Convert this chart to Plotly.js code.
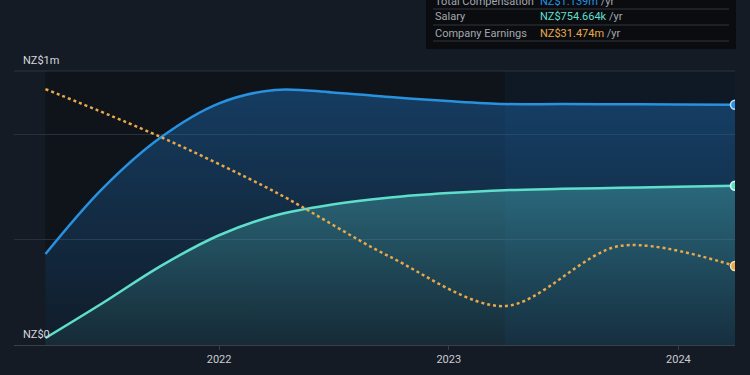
<!DOCTYPE html>
<html>
<head>
<meta charset="utf-8">
<script src="https://cdn.plot.ly/plotly-3.0.1.min.js"></script>
<style>
  html, body { margin: 0; padding: 0; background: #151b24; }
  #chart { width: 750px; height: 375px; }
</style>
</head>
<body>
<div id="chart"></div>
<script>
// ---- data ----
var compDates = ['2021-03-31', '2021-06-30', '2021-09-30', '2021-12-31', '2022-03-31', '2022-06-30', '2022-09-30',
                 '2022-12-31', '2023-03-31', '2023-06-30', '2023-09-30', '2023-12-31', '2024-03-31'];
var totalComp = [0.431, 0.742, 0.983, 1.144, 1.209, 1.197, 1.175, 1.156, 1.142, 1.142, 1.141, 1.140, 1.139];   // NZ$ m
var salary    = [0.033, 0.199, 0.374, 0.519, 0.614, 0.666, 0.699, 0.720, 0.734, 0.740, 0.745, 0.750, 0.754664]; // NZ$ m

var earnDates = ['2021-03-31', '2021-09-30', '2022-03-31', '2022-09-30', '2023-03-31', '2023-09-30', '2024-03-31'];
var earnings  = [102.0, 82.9, 61.0, 35.1, 15.5, 39.5, 31.474];   // NZ$ m

var xTickVals = ['2022-01-01', '2023-01-01', '2024-01-01'];
var xTickText = ['2022', '2023', '2024'];
var yGridVals = [0.5, 1.0];
var yLabels = ['NZ$0', 'NZ$1m'];

var legendNames = ['Total Compensation', 'Salary', 'Company Earnings'];
var legendValues = ['NZ$1.139m', 'NZ$754.664k', 'NZ$31.474m'];

// ---- styling ----
var C_BLUE = '#2892e0';
var C_TEAL = '#5fdfcb';
var C_ORANGE = '#e8a94b';
var BG = '#151b24';

// pixel -> paper helpers (plot area: x 14..735, y 71..345)
function px(x) { return (x - 14) / 721; }
function py(y) { return (345 - y) / 274; }

var lastC = compDates.length - 1;
var lastE = earnDates.length - 1;

var traces = [
  {
    x: compDates, y: totalComp, type: 'scatter', mode: 'lines',
    line: { color: C_BLUE, width: 2.5, shape: 'spline', smoothing: 1 },
    fill: 'tozeroy',
    fillgradient: { type: 'vertical', start: 0, stop: 1.25,
      colorscale: [[0, 'rgba(30,110,180,0.10)'], [1, 'rgba(30,120,200,0.42)']] },
    hoverinfo: 'skip'
  },
  {
    x: compDates, y: salary, type: 'scatter', mode: 'lines',
    line: { color: C_TEAL, width: 2.5, shape: 'spline', smoothing: 1 },
    fill: 'tozeroy',
    fillgradient: { type: 'vertical', start: 0, stop: 0.76,
      colorscale: [[0, 'rgba(70,170,170,0.10)'], [1, 'rgba(80,190,190,0.38)']] },
    hoverinfo: 'skip'
  },
  {
    x: earnDates, y: earnings, type: 'scatter', mode: 'lines', yaxis: 'y2',
    line: { color: C_ORANGE, width: 2.5, dash: 'dot', shape: 'spline', smoothing: 0.9 },
    hoverinfo: 'skip'
  },
  {
    x: [compDates[lastC]], y: [totalComp[lastC]], type: 'scatter', mode: 'markers',
    marker: { color: C_BLUE, size: 9, line: { color: '#bfe0f7', width: 1.5 } }, hoverinfo: 'skip'
  },
  {
    x: [compDates[lastC]], y: [salary[lastC]], type: 'scatter', mode: 'markers',
    marker: { color: C_TEAL, size: 9, line: { color: '#d8fbf5', width: 1.5 } }, hoverinfo: 'skip'
  },
  {
    x: [earnDates[lastE]], y: [earnings[lastE]], type: 'scatter', mode: 'markers', yaxis: 'y2',
    marker: { color: C_ORANGE, size: 9, line: { color: '#fbe2b8', width: 1.5 } }, hoverinfo: 'skip'
  }
];

var shapes = [
  // past panel
  { type: 'rect', layer: 'below', xref: 'x', yref: 'paper', x0: compDates[0], x1: '2023-03-31', y0: 0, y1: 1,
    fillcolor: '#0f131a', line: { width: 0 } },
  // last-year panel
  { type: 'rect', layer: 'below', xref: 'x', yref: 'paper', x0: '2023-03-31', x1: compDates[lastC], y0: 0, y1: 1,
    fillcolor: '#0f1925', line: { width: 0 } },
  // top line
  { type: 'line', layer: 'below', xref: 'paper', yref: 'paper', x0: 0, x1: 1, y0: 1, y1: 1,
    line: { color: '#2e343d', width: 1 } },
  // legend box
  { type: 'rect', xref: 'paper', yref: 'paper', x0: px(426), x1: px(736), y0: py(49), y1: py(-5),
    fillcolor: '#0a0c10', line: { width: 0 } },
  { type: 'line', xref: 'paper', yref: 'paper', x0: px(433), x1: px(729), y0: py(9), y1: py(9),
    line: { color: '#30343a', width: 1 } },
  { type: 'line', xref: 'paper', yref: 'paper', x0: px(433), x1: px(729), y0: py(25), y1: py(25),
    line: { color: '#30343a', width: 1 } },
  { type: 'line', xref: 'paper', yref: 'paper', x0: px(433), x1: px(729), y0: py(41), y1: py(41),
    line: { color: '#30343a', width: 1 } }
];

var legendColors = [C_BLUE, C_TEAL, C_ORANGE];
var legendRowY = [1, 16.5, 33];
var annotations = [];
for (var i = 0; i < legendNames.length; i++) {
  annotations.push({
    xref: 'paper', yref: 'paper', x: px(433), y: py(legendRowY[i]), xanchor: 'left', yanchor: 'middle',
    text: legendNames[i], showarrow: false,
    font: { family: 'Roboto, sans-serif', size: 11, color: '#a4a8ae' }
  });
  annotations.push({
    xref: 'paper', yref: 'paper', x: px(538), y: py(legendRowY[i]), xanchor: 'left', yanchor: 'middle',
    text: '<span style="color:' + legendColors[i] + '">' + legendValues[i] + '</span> /yr', showarrow: false,
    font: { family: 'Roboto, sans-serif', size: 11, color: '#a4a8ae' }
  });
}
annotations.push({
  xref: 'paper', yref: 'paper', x: px(21), y: py(334), xanchor: 'left', yanchor: 'middle',
  text: yLabels[0], showarrow: false, font: { family: 'Roboto, sans-serif', size: 11, color: '#d4d7dc' }
});
annotations.push({
  xref: 'paper', yref: 'paper', x: px(21), y: py(61), xanchor: 'left', yanchor: 'middle',
  text: yLabels[1], showarrow: false, font: { family: 'Roboto, sans-serif', size: 11, color: '#d4d7dc' }
});

var layout = {
  width: 750, height: 375,
  margin: { l: 14, r: 15, t: 71, b: 30, pad: 0 },
  paper_bgcolor: BG, plot_bgcolor: BG,
  showlegend: false,
  hovermode: false,
  xaxis: {
    type: 'date', range: ['2021-02-09', '2024-03-31'],
    tickvals: xTickVals, ticktext: xTickText,
    showgrid: false, zeroline: false,
    showline: true, linecolor: '#3a3f48', linewidth: 1,
    ticks: 'outside', ticklen: 4, tickcolor: '#3a3f48',
    tickfont: { family: 'Roboto, sans-serif', size: 11, color: '#c9ccd1' }
  },
  yaxis: {
    range: [0, 1.2986], tickvals: yGridVals, showticklabels: false,
    showgrid: true, gridcolor: '#27303b', gridwidth: 1, zeroline: false, ticks: ''
  },
  yaxis2: {
    range: [0, 109.2], overlaying: 'y', side: 'right', visible: false, showgrid: false, zeroline: false
  },
  shapes: shapes,
  annotations: annotations
};

Plotly.newPlot('chart', traces, layout, { displayModeBar: false, staticPlot: true });
</script>
</body>
</html>
